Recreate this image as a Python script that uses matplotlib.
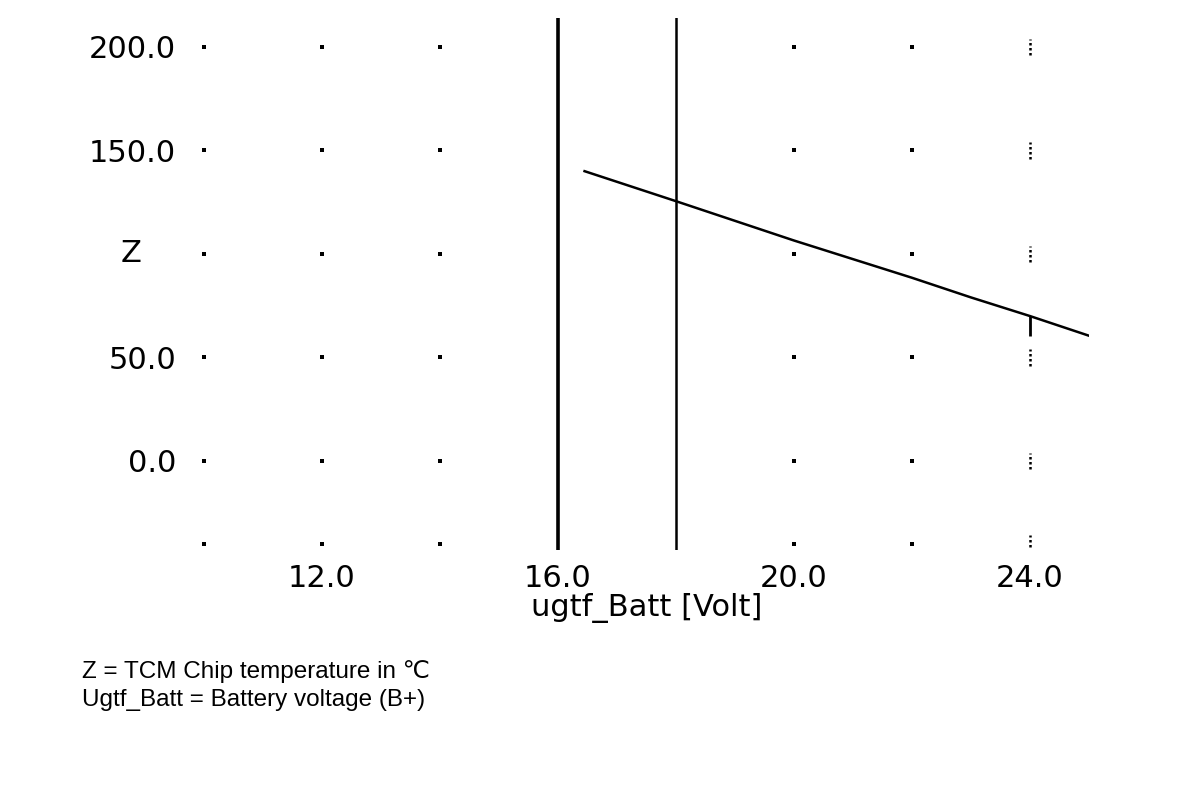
import numpy as np
import matplotlib
matplotlib.use("Agg")
import matplotlib.pyplot as plt

# curve: battery voltage vs chip temperature
volt = [16.45, 18.0, 19.0, 20.0, 21.0, 22.0, 23.0, 24.0, 25.0]
temp = [140.0, 125.5, 116.0, 106.5, 97.5, 88.5, 79.0, 70.0, 60.5]

# markers at 16 V and 18 V
limits = [16.0, 18.0]

xticks = [12.0, 16.0, 20.0, 24.0]
xlabels = ["12.0", "16.0", "20.0", "24.0"]
yticks = [200.0, 150.0, 100.0, 50.0, 0.0]
ylabels = ["200.0", "150.0", "", "50.0", "0.0"]

grid_x = [10.0, 12.0, 14.0, 20.0, 22.0]
grid_y = [200.0, 150.0, 100.0, 50.0, 0.0, -40.0]
cursor_x = 24.0

fig = plt.figure(figsize=(12, 7.86), dpi=100)
ax = fig.add_axes([0.17, 0.3003, 0.7375, 0.6768])
ax.set_xlim(10, 25)
ax.set_ylim(-43, 214)
for s in ax.spines.values():
    s.set_visible(False)

# dotted grid
gx, gy = np.meshgrid(grid_x, grid_y)
ax.scatter(gx.ravel(), gy.ravel(), marker="s", s=7, color="black", lw=0, clip_on=False)

# dotted cursor column at 24 V
for yy in grid_y:
    ax.vlines(cursor_x, yy - 4, yy + 4, colors="black", linestyles=(0, (1, 1)), lw=1.8)
ax.vlines(cursor_x, 60.5, 70, colors="black", lw=2)

ax.axvline(limits[0], color="black", lw=2.6)
ax.axvline(limits[1], color="black", lw=1.8)

ax.plot(volt, temp, color="black", lw=1.8)

tfont = "DejaVu Sans"
ax.set_xticks(xticks)
ax.set_xticklabels(xlabels, fontsize=22, family=tfont)
ax.set_yticks(yticks)
ax.set_yticklabels(ylabels, fontsize=22, family=tfont)
ax.tick_params(length=0)
ax.tick_params(axis="y", pad=20)
ax.tick_params(axis="x", pad=10)
ax.text(-0.0825, 100, "Z", transform=ax.get_yaxis_transform(), ha="center", va="center",
        fontsize=22, family=tfont)
ax.set_xlabel("ugtf_Batt [Volt]", fontsize=22, family=tfont, labelpad=0)

fig.text(0.068, 0.145, "Z = TCM Chip temperature in \u2103", fontsize=17.5,
         family=["Liberation Sans", "DejaVu Sans"], va="center")
fig.text(0.068, 0.109, "Ugtf_Batt = Battery voltage (B+)", fontsize=17.5,
         family=["Liberation Sans", "DejaVu Sans"], va="center")

fig.savefig("out.png", dpi=100)
